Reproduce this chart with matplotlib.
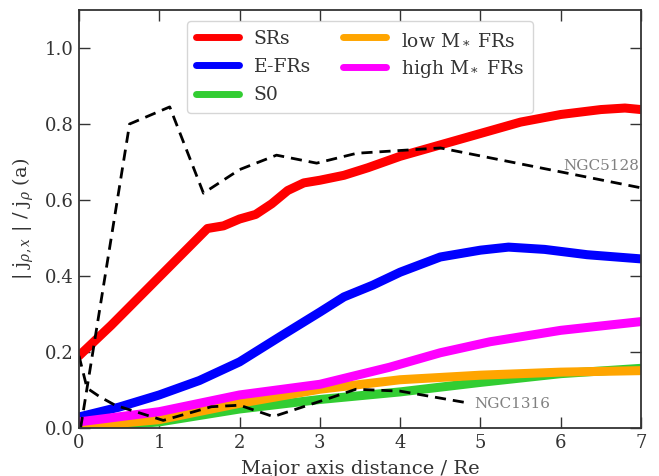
import matplotlib
matplotlib.use("Agg")
import matplotlib.pyplot as plt
import numpy as np

# ---- data ----
sr_x = [0.0, 0.4, 0.8, 1.2, 1.6, 1.8, 2.0, 2.2, 2.4, 2.6, 2.8, 3.0, 3.3, 3.6, 4.0, 4.5, 5.0, 5.5, 6.0, 6.5, 6.8, 7.0]
sr_y = [0.19, 0.27, 0.355, 0.44, 0.525, 0.532, 0.55, 0.562, 0.59, 0.625, 0.645, 0.652, 0.665, 0.685, 0.715, 0.745, 0.775, 0.805, 0.825, 0.838, 0.842, 0.838]

efr_x = [0.0, 0.5, 1.0, 1.5, 2.0, 2.5, 3.0, 3.3, 3.66, 4.0, 4.5, 5.0, 5.35, 5.8, 6.33, 7.0]
efr_y = [0.029, 0.055, 0.087, 0.125, 0.174, 0.24, 0.305, 0.345, 0.376, 0.41, 0.45, 0.468, 0.476, 0.47, 0.456, 0.445]

s0_x = [0.0, 1.0, 2.0, 3.0, 4.0, 5.0, 6.0, 7.0]
s0_y = [0.0, 0.016, 0.05, 0.075, 0.095, 0.12, 0.143, 0.157]

low_x = [0.0, 1.0, 2.0, 3.0, 4.0, 5.0, 6.0, 7.0]
low_y = [0.003, 0.022, 0.065, 0.102, 0.127, 0.139, 0.147, 0.151]

high_x = [0.0, 1.0, 2.0, 3.0, 3.87, 4.5, 5.12, 6.0, 7.0]
high_y = [0.016, 0.043, 0.087, 0.115, 0.16, 0.198, 0.227, 0.257, 0.28]

n5128_x = [0.02, 0.63, 1.13, 1.55, 2.0, 2.46, 2.96, 3.46, 4.5, 7.0]
n5128_y = [0.0, 0.80, 0.845, 0.618, 0.68, 0.718, 0.697, 0.723, 0.737, 0.632]

n1316_x = [0.0, 0.1, 0.26, 0.45, 1.05, 1.65, 2.0, 2.42, 3.1, 3.45, 4.0, 4.87]
n1316_y = [0.19, 0.105, 0.082, 0.06, 0.02, 0.056, 0.06, 0.03, 0.077, 0.102, 0.097, 0.065]

labels = ["SRs", "E-FRs", "S0", r"low M$_*$ FRs", r"high M$_*$ FRs"]
colors = ["#ff0000", "#0000ff", "#32cd32", "#ffa500", "#ff00ff"]

plt.rcParams['font.family'] = 'DejaVu Serif'
plt.rcParams['mathtext.fontset'] = 'dejavuserif'
tc = '#333333'
plt.rcParams['text.color'] = tc
plt.rcParams['axes.labelcolor'] = tc
plt.rcParams['xtick.color'] = tc
plt.rcParams['ytick.color'] = tc

fig = plt.figure(figsize=(6.59, 4.76), dpi=100)
ax = fig.add_axes([79/659, 1-428/476, 562/659, 418/476])

series = [(sr_x, sr_y), (efr_x, efr_y), (s0_x, s0_y), (low_x, low_y), (high_x, high_y)]
for (x, y), lab, c in zip(series, labels, colors):
    ax.plot(x, y, color=c, lw=6.5, label=lab, solid_capstyle='round')

ax.plot(n5128_x, n5128_y, color='black', lw=2, ls=(0, (4, 2.5)))
ax.plot(n1316_x, n1316_y, color='black', lw=2, ls=(0, (4, 2.5)))
ax.text(6.98, 0.69, "NGC5128", color='gray', fontsize=11, ha='right', va='center')
ax.text(4.92, 0.063, "NGC1316", color='gray', fontsize=11, ha='left', va='center')

ax.set_xlim(0, 7)
ax.set_ylim(0, 1.1)
ax.set_xticks(range(0, 8))
ax.set_yticks([0.0, 0.2, 0.4, 0.6, 0.8, 1.0])
ax.tick_params(direction='in', top=True, right=True, length=8, width=1, labelsize=13, pad=4)
for s in ax.spines.values():
    s.set_color(tc)
    s.set_linewidth(1.3)

ax.set_xlabel("Major axis distance / Re", fontsize=14, labelpad=6)
ax.set_ylabel(r"| j$_{\rho,x}$ | / j$_\rho$ (a)", fontsize=14, labelpad=6)

leg = ax.legend(loc='upper center', ncol=2, fontsize=13.5, handlelength=2.3,
                frameon=True, fancybox=True, columnspacing=1.7, borderpad=0.45,
                labelspacing=0.55, borderaxespad=0.6)
leg.get_frame().set_edgecolor('#cccccc')
for h in leg.get_lines():
    h.set_linewidth(5)

fig.savefig("out.png", dpi=100)
